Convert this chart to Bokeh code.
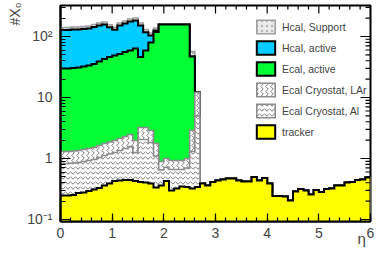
import numpy as np
from bokeh.plotting import figure
from bokeh.models import (Range1d, FixedTicker, Legend, LegendItem, Title, LinearAxis)
from bokeh.embed import file_html
from bokeh.resources import INLINE

# bin edges in eta (60 bins of 0.1)
eta_edges = [round(0.1 * i, 1) for i in range(61)]

tracker = [0.247, 0.247, 0.252, 0.272, 0.277, 0.293, 0.310, 0.328, 0.361, 0.389,
           0.428, 0.436, 0.444, 0.444, 0.428, 0.412, 0.404, 0.389, 0.335, 0.361,
           0.428, 0.299, 0.322, 0.348, 0.341, 0.322, 0.341, 0.389, 0.361, 0.412,
           0.436, 0.453, 0.470, 0.470, 0.436, 0.420, 0.420, 0.497, 0.436, 0.479,
           0.389, 0.243, 0.243, 0.238, 0.205, 0.288, 0.316, 0.299, 0.257, 0.305,
           0.282, 0.316, 0.322, 0.361, 0.361, 0.404, 0.412, 0.444, 0.453, 0.488]

ecal_cryo_al = [0.581, 0.581, 0.592, 0.588, 0.616, 0.634, 0.653, 0.710, 0.759, 0.796,
                0.826, 0.916, 1.014, 1.129, 0.826, 1.637, 1.645, 1.440, 0.765, 0.289,
                0.292, 0.361, 0.338, 0.312, 0.359, 0.978, 4.66] + [0.0] * 33

ecal_cryo_lar = [0.474, 0.474, 0.483, 0.492, 0.511, 0.531, 0.551, 0.596, 0.642, 0.680,
                 0.719, 0.776, 0.836, 0.901, 0.719, 1.174, 1.174, 1.048, 0.662, 0.243,
                 0.280, 0.267, 0.267, 0.267, 0.300, 1.600, 7.08] + [0.0] * 33

ecal_active = [28.58, 28.58, 29.12, 29.67, 30.83, 32.00, 33.90, 37.29, 41.00, 44.26,
               46.85, 49.53, 53.41, 56.48, 61.60, 42.90, 55.73, 76.84, 116.7, 156.4,
               156.3, 156.4, 156.4, 156.4, 156.3, 44.1, 0.0] + [0.0] * 33

hcal_active = [97.9, 97.9, 99.9, 99.3, 100.5, 101.8, 108.0, 112.0, 114.5, 95.8,
               79.7, 99.7, 107.7, 117.3, 119.4, 105.3, 58.7, 24.1, 6.9] + [0.0] * 41

hcal_support = [12.7, 12.7, 12.9, 12.9, 13.1, 13.4, 13.9, 14.7, 15.6, 14.2,
                12.9, 15.0, 16.2, 17.4, 18.1, 15.0, 11.7, 10.3, 12.4, 0.0,
                0.0, 0.0, 0.0, 0.0, 0.0, 9.8] + [0.0] * 34

labels = ["tracker", "Ecal Cryostat, Al", "Ecal Cryostat, LAr", "Ecal, active",
          "Hcal, active", "Hcal, Support"]
layers = [tracker, ecal_cryo_al, ecal_cryo_lar, ecal_active, hcal_active, hcal_support]

styles = [
    dict(fill_color="#ffff00", hatch_pattern=None, hatch_color=None, line_color="black", lw=2),
    dict(fill_color="white", hatch_pattern="horizontal_wave", hatch_color="#7a7a7a", line_color="#8c8c8c", lw=1.6),
    dict(fill_color="white", hatch_pattern="vertical_wave", hatch_color="#7a7a7a", line_color="#8c8c8c", lw=1.6),
    dict(fill_color="#00ff33", hatch_pattern=None, hatch_color=None, line_color="black", lw=2),
    dict(fill_color="#00ccff", hatch_pattern=None, hatch_color=None, line_color="black", lw=2),
    dict(fill_color="#ececec", hatch_pattern="dot", hatch_color="#b4b4b4", line_color="#a0a0a0", lw=1.6),
]

cum = np.cumsum(np.array(layers, dtype=float), axis=0)

X0, X1 = 0, 6
Y0, Y1 = 0.0927, 322.0
W, H = 375, 249
BL, BR, BT, BB = 60, 5, 5, 28
FONT = "Liberation Sans"

p = figure(width=W, height=H, x_range=Range1d(X0, X1), y_range=Range1d(Y0, Y1),
           y_axis_type="log", output_backend="svg", toolbar_location=None,
           min_border_left=BL, min_border_right=BR, min_border_top=BT, min_border_bottom=BB)
p.grid.visible = False
p.background_fill_color = "white"
p.outline_line_color = "black"
p.outline_line_width = 2

floor = 0.01
renderers = {}
for k in range(len(layers) - 1, -1, -1):
    st = styles[k]
    top = cum[k]
    # step-shaped polygon of the cumulative histogram
    px = [eta_edges[0]]
    py = [floor]
    for i in range(len(top)):
        px += [eta_edges[i], eta_edges[i + 1]]
        py += [top[i], top[i]]
    px += [eta_edges[-1]]
    py += [floor]
    kw = dict(fill_color=st["fill_color"], line_color=st["line_color"], line_width=st["lw"],
              line_join="miter")
    if st["hatch_pattern"]:
        kw.update(hatch_pattern=st["hatch_pattern"], hatch_color=st["hatch_color"],
                  hatch_scale=5, hatch_weight=1)
    renderers[k] = p.patch(px, py, **kw)

items = [LegendItem(label=labels[k], renderers=[renderers[k]])
         for k in range(len(layers) - 1, -1, -1)]
legend = Legend(items=items, location=(194, 81), padding=0, margin=0, spacing=4,
                glyph_width=23, glyph_height=17, label_height=17, label_standoff=5,
                label_text_font=FONT, label_text_font_size="10.5px",
                background_fill_alpha=0, border_line_alpha=0)
p.add_layout(legend)

y_major = [0.1, 1, 10, 100]
y_minor = [m * 10.0 ** e for e in range(-2, 3) for m in range(2, 10)]
x_major = [0, 1, 2, 3, 4, 5, 6]
x_minor = [round(0.2 * i, 1) for i in range(31)]

for ax, tin, tmin in ((p.yaxis[0], 10, 5), (p.xaxis[0], 8, 4)):
    ax.major_tick_in = tin
    ax.major_tick_out = 0
    ax.minor_tick_in = tmin
    ax.minor_tick_out = 0
    ax.axis_line_width = 2
    ax.major_tick_line_width = 1.2
    ax.minor_tick_line_width = 1.2
    ax.major_label_text_font = FONT
    ax.major_label_text_font_size = "14px"

p.yaxis.ticker = FixedTicker(ticks=y_major, minor_ticks=y_minor)
p.yaxis.major_label_overrides = {0.1: "10\u207b\u00b9", 1: "1", 10: "10", 100: "10\u00b2"}
p.yaxis.major_label_standoff = 8
p.xaxis.ticker = FixedTicker(ticks=x_major, minor_ticks=x_minor)
p.xaxis.major_label_standoff = 6

# mirrored ticks on the top and right edges (ROOT style)
frame_w = W - BL - BR
frame_h = H - BT - BB
dec_px = frame_h / np.log10(Y1 / Y0)
x_per_px = (X1 - X0) / frame_w
tx_major = [x for x in x_major]
tx_minor = [x for x in x_minor if x not in x_major]
p.segment(x0=tx_major, x1=tx_major, y0=[Y1] * len(tx_major),
          y1=[Y1 / 10 ** (8 / dec_px)] * len(tx_major), line_color="black", line_width=1.2)
p.segment(x0=tx_minor, x1=tx_minor, y0=[Y1] * len(tx_minor),
          y1=[Y1 / 10 ** (4 / dec_px)] * len(tx_minor), line_color="black", line_width=1.2)
ry_minor = [y for y in y_minor if Y0 < y < Y1]
p.segment(x0=[X1] * len(y_major), x1=[X1 - 10 * x_per_px] * len(y_major), y0=y_major, y1=y_major,
          line_color="black", line_width=1.2)
p.segment(x0=[X1] * len(ry_minor), x1=[X1 - 5 * x_per_px] * len(ry_minor), y0=ry_minor, y1=ry_minor,
          line_color="black", line_width=1.2)

# y-axis title at the top of the left side (ROOT style)
p.add_layout(Title(text="#X\u2080", align="right", vertical_align="top", offset=-3, standoff=0,
                   text_font=FONT, text_font_size="14px", text_font_style="normal"), "left")

# x-axis title "eta" at the right end, under the tick labels
eta_pos = round(X1 - 9 * x_per_px, 2)
eta_axis = LinearAxis(ticker=FixedTicker(ticks=[eta_pos], minor_ticks=[]),
                      major_label_overrides={eta_pos: "\u03b7"},
                      axis_line_color=None, major_tick_line_color=None, minor_tick_line_color=None,
                      major_tick_in=0, major_tick_out=0, minor_tick_in=0, minor_tick_out=0,
                      major_label_standoff=-11, major_label_text_font=FONT,
                      major_label_text_font_size="15px")
p.add_layout(eta_axis, "below")

open("out.html", "w").write(file_html(p, INLINE))
